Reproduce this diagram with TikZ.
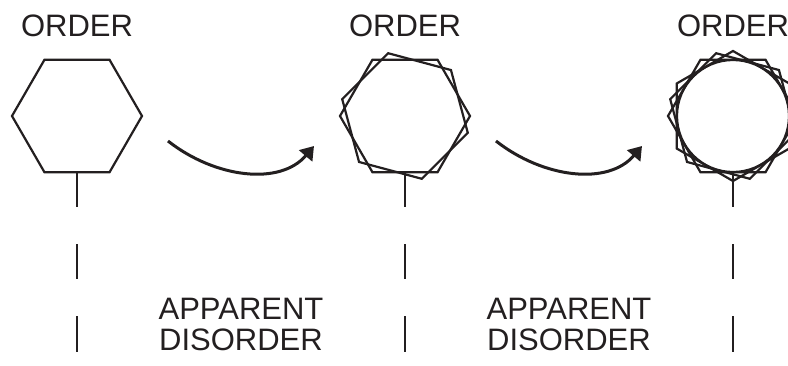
\documentclass[tikz,border=0pt]{standalone}
\usepackage{fontspec}
\setmainfont{Liberation Sans}
\usetikzlibrary{arrows.meta,calc}
\definecolor{ink}{HTML}{231F20}

\begin{document}
\begin{tikzpicture}[x=1pt, y=-1pt,
  hexline/.style={draw=ink, line width=2.2pt, line join=miter},
  stem/.style={draw=ink, line width=2pt},
  flow/.style={draw=ink, line width=3pt, -{Triangle[length=13pt, width=17pt]}},
  lab/.style={font=\fontsize{31}{31}\selectfont, text=ink, inner sep=0pt, align=center}]
\useasboundingbox (0,0) rectangle (788,365);
% centres of the three shapes
\foreach \i/\x in {1/77, 2/405, 3/733}
  \coordinate (c\i) at (\x,116);
% order: one hexagon, then turned copies
\draw[hexline, shift={(c1)}] (0:65) -- (60:65) -- (120:65) -- (180:65) -- (240:65) -- (300:65) -- cycle;
\foreach \r in {0,15}
  \draw[hexline, shift={(c2)}] (\r:65) -- (\r+60:65) -- (\r+120:65) -- (\r+180:65)
    -- (\r+240:65) -- (\r+300:65) -- cycle;
\foreach \r in {0,15,30}
  \draw[hexline, shift={(c3)}] (\r:65) -- (\r+60:65) -- (\r+120:65) -- (\r+180:65)
    -- (\r+240:65) -- (\r+300:65) -- cycle;
\draw[hexline] (c3) circle (56);
% stems and broken lines below
\foreach \i in {1,2,3} {
  \draw[stem] ($(c\i)+(0,56)$) -- ($(c\i)+(0,91)$);
  \draw[stem] ($(c\i)+(0,128)$) -- ($(c\i)+(0,163)$);
  \draw[stem] ($(c\i)+(0,200)$) -- ($(c\i)+(0,236)$);
  \node[lab, anchor=base] (ord\i) at ($(c\i)+(0,-80)$) {ORDER};
}
\foreach \i/\x in {1/241, 2/569}
  \node[lab, anchor=north] (dis\i) at (\x,298) {APPARENT\\DISORDER};
% arrows between the stages
\foreach \i/\x in {1/0, 2/328} {
  \coordinate (as\i) at (168+\x,141);
  \coordinate (ae\i) at (314+\x,146);
  \draw[flow] (as\i) .. controls +(47,37) and +(-34,40) .. (ae\i);
}
\end{tikzpicture}
\end{document}
